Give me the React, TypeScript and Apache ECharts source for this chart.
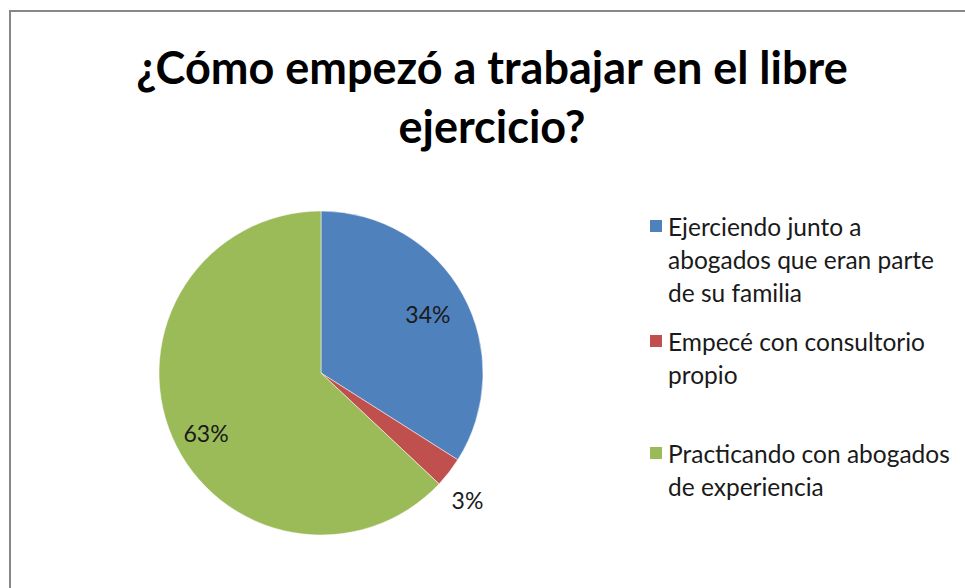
import React, { useEffect, useRef } from 'react';
import * as echarts from 'echarts';

const categories = [
  'Ejerciendo junto a abogados que eran parte de su familia',
  'Empecé con consultorio propio',
  'Practicando con abogados de experiencia',
];
const legendLines = [
  ['Ejerciendo junto a', 'abogados que eran parte', 'de su familia'],
  ['Empecé con consultorio', 'propio'],
  ['Practicando con abogados', 'de experiencia'],
];
const values = [34, 3, 63];
const colors = ['#4F81BD', '#C0504D', '#9BBB59'];
const titleText = '¿Cómo empezó a trabajar en el libre\nejercicio?';

const FONT = 'Lato, "Noto Sans", sans-serif';
const CENTER = [321, 373];
const R = 162;
const LH = 33;
const LEGEND_TOPS = [226 - 2.5 * LH, 341 - 1.5 * LH, 453 - 1.5 * LH];

export default function App() {
  const ref = useRef<HTMLDivElement>(null);
  useEffect(() => {
    if (!ref.current) return;
    const chart = echarts.init(ref.current, null, { renderer: 'svg' });
    const pct = (p: any) => Math.round(p.percent) + '%';
    const option: any = {
      animation: false,
      backgroundColor: '#ffffff',
      title: {
        text: titleText,
        left: 492,
        textAlign: 'center',
        top: 37,
        padding: 0,
        textStyle: {
          fontFamily: FONT,
          fontWeight: 'bold',
          fontSize: 45,
          lineHeight: 59,
          color: '#000000',
        },
      },
      graphic: [
        {
          type: 'rect',
          shape: { x: 10, y: 11, width: 1200, height: 1200 },
          style: { fill: 'none', stroke: '#878787', lineWidth: 2 },
          silent: true,
        },
      ],
      legend: categories.map((name, i) => ({
        orient: 'vertical',
        left: 648,
        top: LEGEND_TOPS[i],
        padding: 0,
        itemWidth: 14,
        itemHeight: 14,
        itemGap: 0,
        selectedMode: false,
        icon: 'rect',
        data: [{ name, itemStyle: { color: colors[i] } }],
        formatter: () =>
          '\n'.repeat(legendLines[i].length - 1) + legendLines[i].join('\n'),
        textStyle: {
          fontFamily: FONT,
          fontSize: 24.5,
          lineHeight: LH,
          color: '#1a1a1a',
        },
      })),
      series: [
        {
          type: 'pie',
          name: 'main',
          center: CENTER,
          radius: [0, R],
          startAngle: 90,
          clockwise: true,
          avoidLabelOverlap: false,
          silent: true,
          itemStyle: { borderColor: '#ffffff', borderWidth: 0.5 },
          label: { show: false },
          labelLine: { show: false },
          data: categories.map((name, i) => ({
            name,
            value: values[i],
            itemStyle: { color: colors[i] },
            label:
              i === 1
                ? {
                    show: true,
                    position: 'outside',
                    formatter: pct,
                    fontFamily: FONT,
                    fontSize: 23,
                    color: '#1a1a1a',
                  }
                : { show: false },
            labelLine:
              i === 1 ? { show: false, length: 45, length2: -38 } : { show: false },
          })),
        },
        {
          type: 'pie',
          name: 'labels',
          center: CENTER,
          radius: [0, 238],
          startAngle: 90,
          clockwise: true,
          avoidLabelOverlap: false,
          silent: true,
          itemStyle: { color: 'rgba(0,0,0,0)', borderWidth: 0 },
          emphasis: { disabled: true },
          labelLine: { show: false },
          label: {
            show: true,
            position: 'inside',
            formatter: pct,
            fontFamily: FONT,
            fontSize: 23,
            lineHeight: 24,
            color: '#1a1a1a',
          },
          data: categories.map((name, i) => ({
            name,
            value: values[i],
            itemStyle: { color: 'rgba(0,0,0,0)' },
            label:
              i === 1
                ? { show: false }
                : i === 2
                ? { formatter: (p: any) => '\n' + pct(p) + ' ' }
                : {},
          })),
        },
      ],
    };
    chart.setOption(option);
    return () => chart.dispose();
  }, []);
  return (
    <div
      ref={ref}
      style={{ position: 'fixed', left: 0, top: 0, width: 965, height: 588 }}
    />
  );
}
